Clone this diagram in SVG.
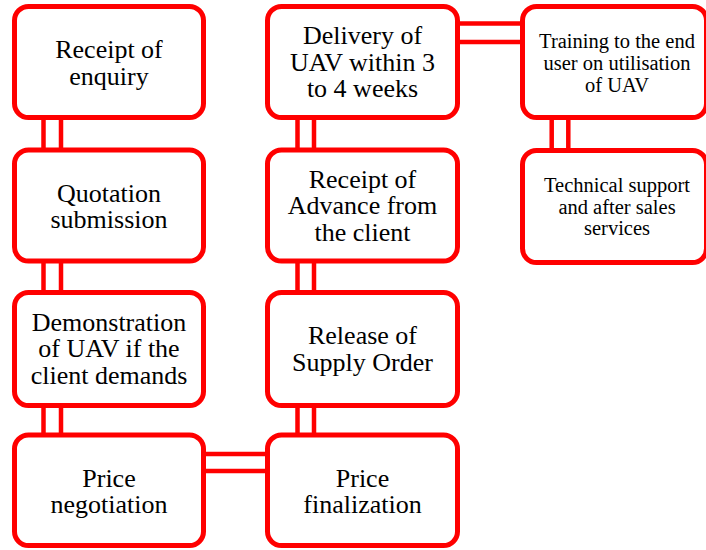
<svg xmlns="http://www.w3.org/2000/svg" width="706" height="550" viewBox="0 0 706 550">
<style>
.box{fill:#fff;stroke:#ff0000;stroke-width:5}
.c{stroke:#ff0000;stroke-width:4.5;fill:none}
.t{font-family:"Liberation Serif","Times New Roman",serif;font-size:26px;fill:#000;text-anchor:middle}
.s{font-family:"Liberation Serif","Times New Roman",serif;font-size:20.5px;fill:#000;text-anchor:middle}
</style>
<rect width="706" height="550" fill="#fff"/>
<g id="connectors">
<path class="c" d="M43.5 115V152M61 115V152M43.5 259V295M61 259V295M43.5 403V438M61 403V438"/>
<path class="c" d="M297.5 115V152M314 115V152M297.5 259V295M314 259V295M297.5 403V438M314 403V438"/>
<path class="c" d="M551.7 115V152M568.3 115V152"/>
<path class="c" d="M455 23.5H525M455 42H525"/>
<path class="c" d="M201 454H270M201 471H270"/>
</g>
<g id="n1"><rect class="box" x="14.5" y="6.5" width="189" height="111" rx="14"/>
<text class="t" x="109" y="58">Receipt of</text><text class="t" x="109" y="84.5">enquiry</text></g>
<g id="n2"><rect class="box" x="14.5" y="150" width="189" height="111" rx="14"/>
<text class="t" x="109" y="202">Quotation</text><text class="t" x="109" y="228">submission</text></g>
<g id="n3"><rect class="box" x="14.5" y="292.5" width="189" height="113" rx="14"/>
<text class="t" x="109" y="330.5">Demonstration</text><text class="t" x="109" y="357">of UAV if the</text><text class="t" x="109" y="383.5">client demands</text></g>
<g id="n4"><rect class="box" x="14.5" y="435" width="189" height="110.5" rx="14"/>
<text class="t" x="109" y="487">Price</text><text class="t" x="109" y="513">negotiation</text></g>
<g id="n5"><rect class="box" x="267.5" y="435" width="190" height="110.5" rx="14"/>
<text class="t" x="362.5" y="487">Price</text><text class="t" x="362.5" y="513">finalization</text></g>
<g id="n6"><rect class="box" x="267.5" y="292.5" width="190" height="113" rx="14"/>
<text class="t" x="362.5" y="344">Release of</text><text class="t" x="362.5" y="370.5">Supply Order</text></g>
<g id="n7"><rect class="box" x="267.5" y="150" width="190" height="111" rx="14"/>
<text class="t" x="362.5" y="187.5">Receipt of</text><text class="t" x="362.5" y="214">Advance from</text><text class="t" x="362.5" y="240.5">the client</text></g>
<g id="n8"><rect class="box" x="267.5" y="6.5" width="190" height="111" rx="14"/>
<text class="t" x="362.5" y="44">Delivery of</text><text class="t" x="362.5" y="70.5">UAV within 3</text><text class="t" x="362.5" y="97">to 4 weeks</text></g>
<g id="n9"><rect class="box" x="522.5" y="6.5" width="184" height="111" rx="14"/>
<text class="s" x="617" y="48">Training to the end</text><text class="s" x="617" y="70">user on utilisation</text><text class="s" x="617" y="92">of UAV</text></g>
<g id="n10"><rect class="box" x="522.5" y="150.5" width="184" height="112" rx="14"/>
<text class="s" x="617" y="192">Technical support</text><text class="s" x="617" y="213.5">and after sales</text><text class="s" x="617" y="235">services</text></g>
</svg>
